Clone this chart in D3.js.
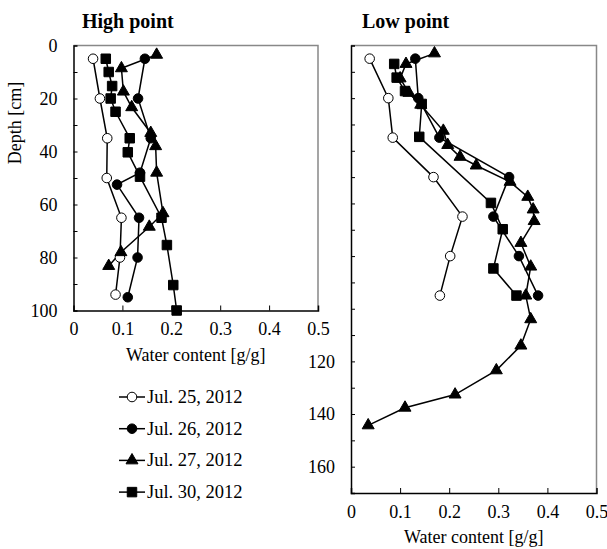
<!DOCTYPE html>
<html>
<head>
<meta charset="utf-8">
<script src="https://cdn.jsdelivr.net/npm/d3@7"></script>
<style>
  body { margin: 0; background: #fff; }
  svg text { font-family: "Liberation Serif", "Times New Roman", serif; fill: #000; }
</style>
</head>
<body>
<svg id="chart" width="607" height="549"></svg>
<script>
// series labels
var seriesNames = ["Jul. 25, 2012", "Jul. 26, 2012", "Jul. 27, 2012", "Jul. 30, 2012"];
var seriesShapes = ["openCircle", "circle", "triangle", "square"];

// High point: [water content, depth]
var high25 = [[0.040, 5], [0.054, 20], [0.069, 35], [0.068, 50], [0.098, 65], [0.095, 80], [0.086, 94]];
var high26 = [[0.146, 5], [0.132, 20], [0.158, 35], [0.136, 48], [0.089, 52.5], [0.134, 65], [0.131, 80], [0.111, 95]];
var high27 = [[0.170, 3.5], [0.098, 8.6], [0.102, 17.4], [0.119, 23.3], [0.158, 33], [0.168, 38], [0.170, 48],
              [0.183, 63.3], [0.155, 68.4], [0.097, 78], [0.072, 83.2]];
var high30 = [[0.066, 5], [0.072, 10], [0.079, 15.3], [0.076, 20], [0.086, 25], [0.115, 35], [0.111, 40.3],
              [0.136, 49.5], [0.180, 65], [0.191, 75.3], [0.204, 90.4], [0.211, 100]];

// Low point
var low25 = [[0.038, 5], [0.076, 20], [0.085, 35], [0.168, 50], [0.227, 65], [0.202, 80], [0.181, 95]];
var low26 = [[0.131, 5], [0.137, 20], [0.180, 35], [0.322, 50], [0.290, 65], [0.342, 80], [0.381, 95]];
var low27 = [[0.170, 3], [0.112, 7], [0.100, 12.5], [0.118, 18], [0.142, 22.5], [0.188, 32.4], [0.197, 37.8],
             [0.222, 42.3], [0.255, 45.6], [0.324, 51.8], [0.360, 57.5], [0.371, 62.3], [0.373, 66.7],
             [0.346, 75], [0.366, 84], [0.356, 95], [0.366, 104], [0.346, 114], [0.296, 123.4],
             [0.212, 132.6], [0.110, 137.6], [0.035, 144.3]];
var low30 = [[0.088, 7], [0.093, 12.2], [0.110, 17.3], [0.144, 22.2], [0.139, 34.7], [0.285, 59.8],
             [0.309, 69.8], [0.290, 84.7], [0.337, 95]];

var xTicks = [0, 0.1, 0.2, 0.3, 0.4, 0.5];
var serif = "'Liberation Serif', 'Times New Roman', serif";

var svg = d3.select("#chart");

function marker(shape) {
    var type = d3.symbolCircle, size = 72;
    if (shape == "square") { type = d3.symbolSquare; size = 90; }
    if (shape == "triangle") { type = d3.symbolTriangle; size = 62; }
    return d3.symbol().type(type).size(size)();
}

function drawPanel(opt) {
    var x = d3.scaleLinear().domain([0, 0.5]).range([opt.left, opt.right]);
    var y = d3.scaleLinear().domain([0, opt.maxDepth]).range([opt.top, opt.bottom]);
    var g = svg.append("g");

    // frame top and right
    g.append("path")
        .attr("d", "M" + x(0) + "," + y(0) + "H" + x(0.5) + "V" + y(opt.maxDepth))
        .attr("fill", "none")
        .attr("stroke", "#888")
        .attr("stroke-width", 1.5);

    // x axis
    var xa = g.append("g")
        .attr("transform", "translate(0," + y(opt.maxDepth) + ")")
        .call(d3.axisBottom(x).tickValues(xTicks).tickSize(-5).tickPadding(14)
            .tickFormat(function (d) { return d == 0 ? "0" : d3.format(".1f")(d); }));
    xa.attr("font-family", serif).attr("font-size", 18);
    xa.select(".domain").attr("stroke-width", 1.5);
    xa.selectAll(".tick").filter(function (d) { return d == 0 || d == 0.5; }).select("line").remove();
    xa.selectAll("text").attr("y", 12);

    // y axis
    var ya = g.append("g")
        .attr("transform", "translate(" + x(0) + ",0)")
        .call(d3.axisLeft(y).tickValues(d3.range(0, opt.maxDepth + 1, 10)).tickSize(-4).tickPadding(16)
            .tickFormat(opt.yFormat));
    ya.attr("font-family", serif).attr("font-size", 18);
    ya.select(".domain").attr("stroke-width", 1.5);
    ya.selectAll(".tick").filter(function (d) { return d == 0 || d == opt.maxDepth; }).select("line").remove();

    // title
    g.append("text")
        .attr("x", opt.titleX)
        .attr("y", 28)
        .attr("font-family", serif)
        .style("font-size", "20px")
        .style("font-weight", "bold")
        .text(opt.title);

    // x label
    g.append("text")
        .attr("x", (x(0) + x(0.5)) / 2)
        .attr("y", y(opt.maxDepth) + 50)
        .attr("text-anchor", "middle")
        .attr("font-family", serif)
        .style("font-size", "18px")
        .text("Water content [g/g]");

    var line = d3.line()
        .x(function (d) { return x(d[0]); })
        .y(function (d) { return y(d[1]); });

    opt.series.forEach(function (s) {
        g.append("path")
            .datum(s)
            .attr("d", line)
            .attr("fill", "none")
            .attr("stroke", "#000")
            .attr("stroke-width", 1.5);
    });
    opt.series.forEach(function (s, i) {
        var shape = seriesShapes[i];
        g.selectAll(null)
            .data(s)
            .enter()
            .append("path")
            .attr("d", marker(shape))
            .attr("transform", function (d) { return "translate(" + x(d[0]) + "," + y(d[1]) + ")"; })
            .attr("fill", shape == "openCircle" ? "#fff" : "#000")
            .attr("stroke", "#000")
            .attr("stroke-width", 1);
    });
}

drawPanel({
    left: 73.5, right: 318, top: 45.5, bottom: 310.5, maxDepth: 100,
    title: "High point", titleX: 82,
    yFormat: function (d) { return d % 20 == 0 ? d : ""; },
    series: [high25, high26, high27, high30]
});

drawPanel({
    left: 351, right: 596.5, top: 45.5, bottom: 493, maxDepth: 170,
    title: "Low point", titleX: 362,
    yFormat: function (d) { return (d > 100 && d % 20 == 0) ? d : ""; },
    series: [low25, low26, low27, low30]
});

// y label
svg.append("text")
    .attr("transform", "translate(21,123)rotate(-90)")
    .attr("text-anchor", "middle")
    .attr("font-family", serif)
    .style("font-size", "18px")
    .text("Depth [cm]");

// legend
var legend = svg.append("g");
seriesNames.forEach(function (name, i) {
    var ly = 397 + i * 31.7;
    legend.append("line")
        .attr("x1", 119).attr("x2", 145)
        .attr("y1", ly).attr("y2", ly)
        .attr("stroke", "#000").attr("stroke-width", 1.5);
    legend.append("path")
        .attr("d", marker(seriesShapes[i]))
        .attr("transform", "translate(132," + ly + ")")
        .attr("fill", seriesShapes[i] == "openCircle" ? "#fff" : "#000")
        .attr("stroke", "#000");
    legend.append("text")
        .attr("x", 147)
        .attr("y", ly + 6)
        .attr("font-family", serif)
        .style("font-size", "18.5px")
        .text(name);
});
</script>
</body>
</html>
